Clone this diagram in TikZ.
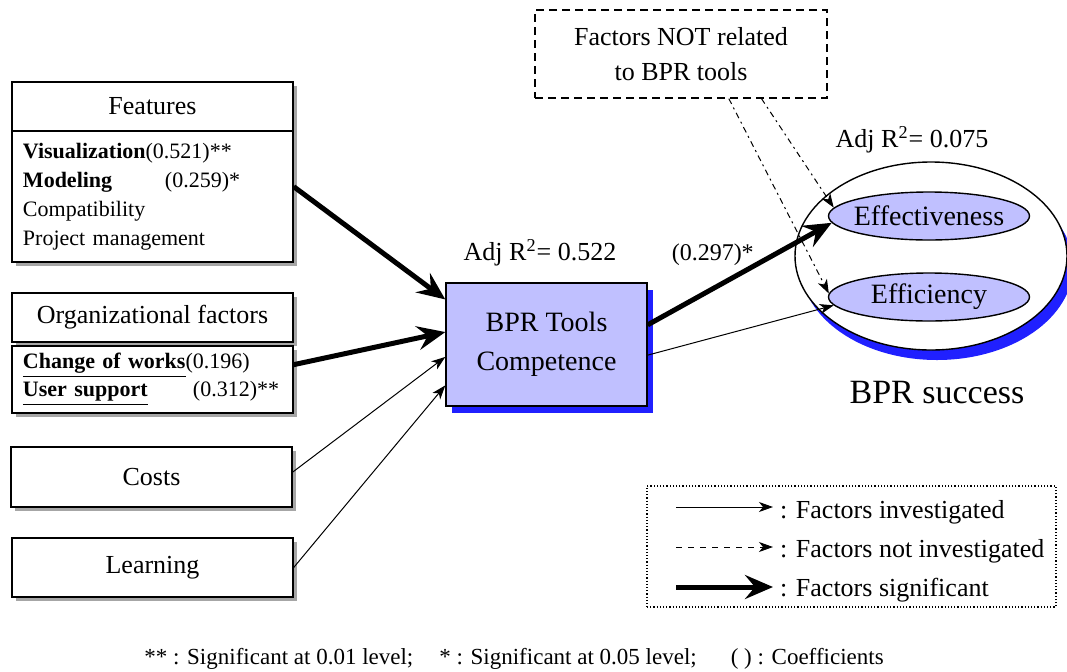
\documentclass[tikz,border=0pt]{standalone}
\usepackage{fontspec}
\setmainfont{Liberation Serif}
\usetikzlibrary{arrows.meta, shapes.geometric, shadows}

\definecolor{lavender}{RGB}{192,192,255}
\definecolor{shadowblue}{RGB}{32,32,255}
\newcommand{\fsz}[2]{\fontsize{#1}{#2}\selectfont}

\begin{document}
\begin{tikzpicture}[x=0.5pt, y=-0.5pt,
    factor/.style={draw, line width=0.7pt, fill=white, minimum width=140.5pt, inner sep=0pt,
      general shadow={fill=gray!70, shadow xshift=2pt, shadow yshift=-2pt}},
    itemlist/.style={factor, text width=129.5pt, align=left, inner xsep=5.5pt, font=\fsz{11pt}{14.5pt}},
    oval/.style={ellipse, draw, line width=0.7pt, inner sep=0pt},
    sig/.style={-{Stealth[length=14pt, width=12pt, inset=5pt]}, line width=2.5pt},
    inv/.style={-{Stealth[length=7pt, width=5pt, inset=2pt]}, line width=0.5pt},
    notinv/.style={inv, dash pattern=on 3pt off 2pt on 1pt off 2pt}]
  \useasboundingbox (0,0) rectangle (1067,671);

  % left hand factors
  \node (feathead) [factor, minimum height=24.5pt, font=\fsz{13pt}{15pt}] at (152.5,106.5) {Features};
  \node (feat) [itemlist, minimum height=65.5pt] at (152.5,196.5)
    {\textbf{Visualization}(0.521)**\\
     \makebox[71pt][l]{\textbf{Modeling}}(0.259)*\\
     Compatibility\\
     Project management};
  \node (orghead) [factor, minimum height=24.5pt, font=\fsz{13pt}{15pt}] at (152.5,317.5) {Organizational factors};
  \node (orgbody) [itemlist, minimum height=33.5pt, font=\fsz{11pt}{14pt}] at (152.5,379.5)
    {\underline{\textbf{Change of works}}(0.196)\\
     \makebox[85pt][l]{\underline{\textbf{User support}}}(0.312)**};
  \node (costs) [factor, minimum height=30pt, font=\fsz{13pt}{15pt}] at (151.5,477) {Costs};
  \node (learning) [factor, minimum height=29.5pt, font=\fsz{13pt}{15pt}] at (152.5,567.5) {Learning};

  % tools competence
  \node (bpr) [draw, line width=0.7pt, fill=lavender, minimum width=100.5pt, minimum height=61.5pt,
    align=center, font=\fsz{14pt}{19.5pt},
    general shadow={fill=shadowblue, shadow xshift=3pt, shadow yshift=-3.5pt}] at (546.5,344.5)
    {BPR Tools\\Competence};
  \node (adjbpr) [font=\fsz{13pt}{15pt}] at (540,253) {Adj R\textsuperscript{2}= 0.522};

  % outside factors
  \node (notbpr) [draw, dashed, dash pattern=on 4pt off 2.5pt, line width=0.6pt, minimum width=146pt,
    minimum height=44pt, align=center, font=\fsz{13pt}{17.5pt}] at (681,54)
    {Factors NOT related\\to BPR tools};

  % success
  \node (success) [oval, fill=white, minimum width=136pt, minimum height=94pt,
    general shadow={fill=shadowblue, shadow xshift=3pt, shadow yshift=-5pt}] at (931,256) {};
  \node (eff) [oval, fill=lavender, minimum width=100.5pt, minimum height=24pt,
    label={[font=\fsz{14pt}{16pt}]center:Effectiveness}] at (929,216) {};
  \node (effi) [oval, fill=lavender, minimum width=100.5pt, minimum height=24pt,
    label={[font=\fsz{14pt}{16pt}]center:Efficiency}] at (929,297) {};
  \node (adjsucc) [font=\fsz{13pt}{15pt}] at (912,140) {Adj R\textsuperscript{2}= 0.075};
  \node (succtext) [font=\fsz{17pt}{20pt}] at (937,393) {BPR success};

  \path [sig]
    (feat.4.7) edge (bpr.156.4)
    (orgbody.6.3) edge (bpr.173.7)
    (bpr.11.4) edge node [auto, pos=0.55, xshift=7pt, yshift=-3pt, font=\fsz{12pt}{14pt}] {(0.297)*} (eff.184);
  \path [inv]
    (costs.2) edge (bpr.187.4)
    (learning.east) edge (bpr.202.8)
    (bpr.-6) edge (effi.185);
  \path [notinv]
    (notbpr.-43.7) edge (effi.178)
    (notbpr.-29.7) edge (eff.175);

  % legend
  \node (legend) [draw, densely dotted, line width=0.6pt, minimum width=204.5pt, minimum height=60.5pt] at (851.5,546.5) {};
  \coordinate (inv1) at (676,507);
  \coordinate (inv2) at (773,507);
  \coordinate (notinv1) at (676,547);
  \coordinate (notinv2) at (773,547);
  \coordinate (sig1) at (676,587);
  \coordinate (sig2) at (773,587);
  \path (inv1) edge [inv] (inv2)
    (notinv1) edge [inv, dashed] (notinv2)
    (sig1) edge [sig] (sig2);
  \node (leginv) [anchor=west, font=\fsz{13pt}{15pt}] at (773,512) {: Factors investigated};
  \node (legnotinv) [anchor=west, font=\fsz{13pt}{15pt}] at (773,551) {: Factors not investigated};
  \node (legsig) [anchor=west, font=\fsz{13pt}{15pt}] at (773,590) {: Factors significant};

  \node (note) [font=\fsz{11.5pt}{14pt}] at (514,659)
    {** : Significant at 0.01 level;\hspace{13pt}* : Significant at 0.05 level;\hspace{17pt}( ) : Coefficients};
\end{tikzpicture}
\end{document}
